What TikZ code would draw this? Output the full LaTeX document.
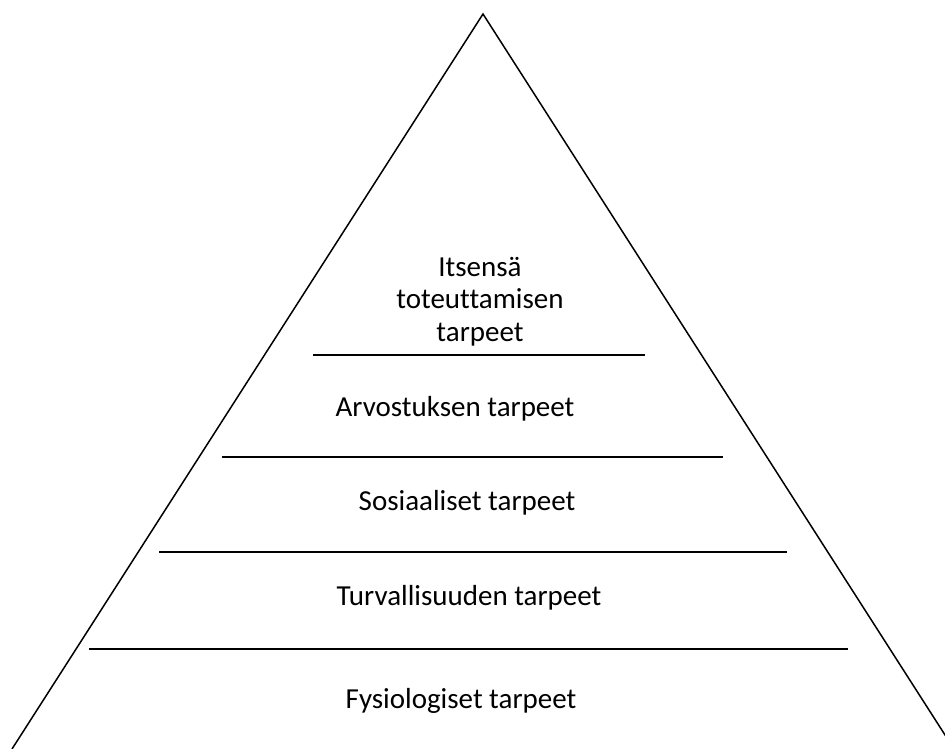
\documentclass[tikz,border=0pt]{standalone}
\usepackage{fontspec}
\setmainfont{Carlito}[Ligatures=NoCommon]

\begin{document}
\begin{tikzpicture}[
  x=1pt, y=-1pt,
  side/.style={line width=1.5pt, line join=miter},
  level/.style={line width=2pt},
  tier/.style={font=\fontsize{29}{32.5}\selectfont, anchor=base, inner sep=0pt, align=center}
]
\useasboundingbox (0,0) rectangle (945,749);
\draw[side] (12,749) -- (483,14) -- (954,749);

\draw[level] (313,355) -- (645,355);
\draw[level] (222,457) -- (723,457);
\draw[level] (159,552) -- (787,552);
\draw[level] (89,649) -- (848,649);

\node[tier] (self) at (480,341) {Itsensä\\toteuttamisen\\tarpeet};
\node[tier] (esteem) at (455,416) {Arvostuksen tarpeet};
\node[tier] (social) at (467,510) {Sosiaaliset tarpeet};
\node[tier] (safety) at (469,605) {Turvallisuuden tarpeet};
\node[tier] (physio) at (461,708) {Fysiologiset tarpeet};
\end{tikzpicture}
\end{document}
